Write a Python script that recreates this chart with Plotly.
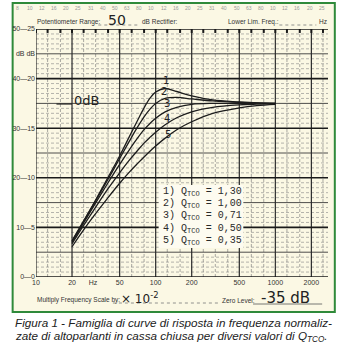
import plotly.graph_objects as go

# ---------------- data ----------------
freqs = [20, 25, 30, 40, 50, 60, 70, 80, 90, 100, 120, 150, 200, 300, 500, 700, 1000]
q_values = ['1,30', '1,00', '0,71', '0,50', '0,35']
curve_1 = [7.3, 11.3, 14.6, 20.1, 24.4, 28.2, 31.4, 34.1, 36.1, 37.3, 38.0, 37.4, 36.5, 35.7, 35.3, 35.1, 35.0]
curve_2 = [7.2, 11.2, 14.5, 19.7, 23.9, 27.3, 30.1, 32.3, 33.9, 35.0, 36.0, 36.2, 35.9, 35.5, 35.2, 35.1, 35.0]
curve_3 = [7.0, 10.9, 14.1, 19.0, 22.7, 25.6, 27.9, 29.7, 31.0, 32.0, 33.3, 34.2, 34.8, 35.0, 35.0, 35.0, 35.0]
curve_4 = [6.7, 10.4, 13.3, 17.8, 21.0, 23.5, 25.4, 27.0, 28.2, 29.2, 30.7, 32.1, 33.3, 34.2, 34.7, 34.85, 34.95]
curve_5 = [6.1, 9.5, 12.1, 16.0, 18.9, 21.1, 22.8, 24.2, 25.4, 26.4, 28.0, 29.7, 31.3, 33.0, 34.1, 34.55, 34.8]
curves = [curve_1, curve_2, curve_3, curve_4, curve_5]

y_tick_vals = [0, 10, 20, 30, 40, 45, 50]
y_tick_text = ['0—0', '10—5', '20—10', '30—15', '40—20', 'dB dB', '50—25']
x_tick_vals = [10, 20, 30, 50, 100, 200, 500, 1000, 2000]
x_tick_text = ['10', '20', 'Hz', '50', '100', '200', '500', '1000', '2000']

v_major = [10, 20, 50, 100, 200, 500, 1000, 2000]
v_minor = [12.5, 16, 25, 31.5, 40, 63, 80, 125, 160, 250, 315, 400, 630, 800, 1250, 1600, 2500]
h_major = [0, 10, 20, 30, 40, 50]
h_mid = [5, 15, 25, 35, 45]
h_minor = [v for v in range(0, 51) if v % 5 != 0]

ruler_labels = ['8', '10', '12', '16', '20', '25', '31', '40', '50', '63', '80', '10', '12',
                '16', '20', '25', '31', '40', '50', '63', '80', '10', '12', '16', '20', '25']

# ---------------- geometry (pixels) ----------------
W, H = 340, 348
L, R, T, B = 28, 328, 29, 277
X_LOG_MAX = 3.44
F_MAX = 10 ** X_LOG_MAX


def px(x):
    return (x - L) / (R - L)


def py(y):
    return (B - y) / (B - T)


CREAM = '#fbf8e4'
INK = '#1c1c1c'

fig = go.Figure()


def seg_trace(xs_pairs, ys_pairs, color, width, dash='solid'):
    xs, ys = [], []
    for (x0, x1), (y0, y1) in zip(xs_pairs, ys_pairs):
        xs += [x0, x1, None]
        ys += [y0, y1, None]
    fig.add_trace(go.Scatter(x=xs, y=ys, mode='lines', hoverinfo='skip', showlegend=False,
                             line=dict(color=color, width=width, dash=dash)))


# grid
seg_trace([(10, F_MAX)] * len(h_minor), [(v, v) for v in h_minor], '#858585', 0.6, '3px,2px')
seg_trace([(f, f) for f in v_minor], [(0, 50)] * len(v_minor), '#707070', 0.6, '3px,2px')
seg_trace([(10, F_MAX)] * len(h_mid), [(v, v) for v in h_mid], '#3a3a3a', 0.9)
seg_trace([(f, f) for f in v_major], [(0, 50)] * len(v_major), '#2a2a2a', 1.2)
seg_trace([(10, F_MAX)] * len(h_major), [(v, v) for v in h_major], '#1a1a1a', 1.6)
# little marks along the top edge
seg_trace([(f, f) for f in v_major + v_minor], [(49.2, 50)] * (len(v_major) + len(v_minor)), '#1a1a1a', 2)

# curves
for c in curves:
    fig.add_trace(go.Scatter(x=freqs, y=c, mode='lines', showlegend=False,
                             line=dict(color=INK, width=1.3, shape='spline', smoothing=1.0)))

shapes = [
    # chart paper with green frame
    dict(type='rect', xref='paper', yref='paper', x0=px(4), x1=px(335), y0=py(312), y1=py(3),
         fillcolor=CREAM, line=dict(color='#2f8a3a', width=2), layer='below'),
    # legend box covering the grid
    dict(type='rect', xref='paper', yref='paper', x0=px(154), x1=px(241), y0=py(248), y1=py(185),
         fillcolor='#fdfbf0', line=dict(width=0), layer='above'),
    # pencil stroke for 0dB
    dict(type='line', xref='paper', yref='paper', x0=px(49), x1=px(65), y0=py(104), y1=py(104),
         line=dict(color='#222', width=1.2)),
    # dotted fill lines on header/footer
    dict(type='line', xref='paper', yref='paper', x0=px(92), x1=px(135), y0=py(25), y1=py(25),
         line=dict(color='#777', width=0.8, dash='dot')),
    dict(type='line', xref='paper', yref='paper', x0=px(278), x1=px(316), y0=py(25), y1=py(25),
         line=dict(color='#777', width=0.8, dash='dot')),
    dict(type='line', xref='paper', yref='paper', x0=px(107), x1=px(216), y0=py(303), y1=py(303),
         line=dict(color='#777', width=0.8, dash='dot')),
    dict(type='line', xref='paper', yref='paper', x0=px(251), x1=px(322), y0=py(304), y1=py(304),
         line=dict(color='#555', width=0.8)),
]

ann = []


def text(x, y, s, size, color=INK, family='Liberation Sans', xanchor='left'):
    ann.append(dict(xref='paper', yref='paper', x=px(x), y=py(y), text=s, showarrow=False,
                    xanchor=xanchor, yanchor='middle', borderpad=0,
                    font=dict(size=size, color=color, family=family)))


# curve numbers
for i, (xx, yy) in enumerate([(162, 80), (160, 91), (163, 104), (163, 118), (164, 134)]):
    text(xx, yy, str(i + 1), 10, '#222', 'DejaVu Sans', 'center')
text(66, 101, '0dB', 13, '#222', 'DejaVu Sans')

# legend text
for i, q in enumerate(q_values):
    text(157, 192 + i * 12.2, f'{i + 1}) Q<sub>TCO</sub> = {q}', 10, '#2a2a2a', 'Liberation Mono')

# header
text(28, 22, 'Potentiometer Range:', 6.5, '#333')
text(101, 20, '50', 14, '#222', 'DejaVu Sans')
text(136, 22, 'dB Rectifier:', 6.5, '#333')
text(224, 22, 'Lower Lim. Freq.:', 6.5, '#333')
text(318, 22, 'Hz', 6.5, '#333')
for i, lab in enumerate(ruler_labels):
    text(9 + i * 12.5, 8, lab, 5, '#999', 'Liberation Sans', 'center')

# footer
text(28, 300, 'Multiply Frequency Scale by:', 6.5, '#333')
text(114, 298, '× 10<sup>-2</sup>', 12, '#222', 'DejaVu Sans')
text(218, 300, 'Zero Level:', 6.5, '#333')
text(258, 298, '-35 dB', 15, '#222', 'DejaVu Sans')

# caption
text(5, 322, '<i>Figura 1 - Famiglia di curve di risposta in frequenza normaliz-</i>', 11.7, '#222')
text(5, 336, '<i>zate di altoparlanti in cassa chiusa per diversi valori di Q<sub>TCO</sub>.</i>', 11.7, '#222')

fig.update_layout(
    width=W, height=H, margin=dict(l=L, r=W - R, t=T, b=H - B, pad=0),
    paper_bgcolor='white', plot_bgcolor=CREAM,
    shapes=shapes, annotations=ann, showlegend=False,
    xaxis=dict(type='log', range=[1, X_LOG_MAX], showgrid=False, zeroline=False, showline=False,
               tickvals=x_tick_vals, ticktext=x_tick_text, ticks='', ticklen=0,
               tickfont=dict(size=7, color='#333', family='Liberation Sans'), fixedrange=True),
    yaxis=dict(range=[0, 50], showgrid=False, zeroline=False, showline=False,
               tickvals=y_tick_vals, ticktext=y_tick_text, ticks='', ticklen=0,
               tickfont=dict(size=7, color='#333', family='Liberation Sans'), fixedrange=True),
)

fig.write_html('out.html')
